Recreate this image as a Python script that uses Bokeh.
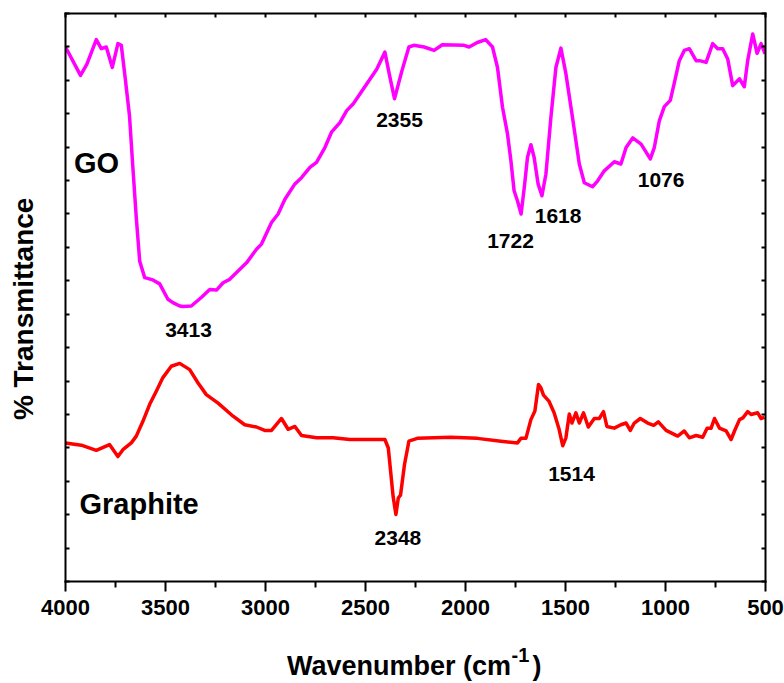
from bokeh.core.properties import value
from bokeh.embed import file_html
from bokeh.models import (ColumnDataSource, CustomJSTickFormatter, FixedTicker,
                          LinearAxis, Range1d)
from bokeh.plotting import figure
from bokeh.resources import INLINE

# FTIR spectra: wavenumber (cm^-1) vs. transmittance (arbitrary %, offset traces)
go_wn = [4000, 3925, 3893, 3846, 3821, 3796, 3766, 3738, 3721, 3704,
         3680, 3663, 3646, 3629, 3604, 3563, 3529, 3488, 3463, 3429,
         3413, 3371, 3321, 3279, 3245, 3212, 3179, 3095, 3045, 3020,
         2970, 2937, 2903, 2853, 2820, 2778, 2745, 2703, 2670, 2628,
         2594, 2561, 2494, 2444, 2403, 2378, 2355, 2318, 2283, 2258,
         2207, 2157, 2116, 2007, 1982, 1941, 1899, 1865, 1840, 1815,
         1790, 1773, 1757, 1740, 1722, 1705, 1690, 1673, 1657, 1637,
         1618, 1598, 1573, 1548, 1523, 1498, 1465, 1431, 1406, 1365,
         1340, 1306, 1256, 1223, 1197, 1164, 1122, 1076, 1056, 1031,
         1006, 976, 957, 931, 906, 881, 847, 830, 797, 764,
         739, 714, 689, 664, 630, 606, 589, 564, 542, 522,
         502]
go_t = [94.1, 89.1, 91.1, 95.4, 93.8, 94.1, 90.5, 94.7, 94.4, 89.4,
        82.0, 72.8, 64.0, 56.4, 53.5, 53.1, 52.4, 49.7, 49.1, 48.5,
        48.4, 48.5, 50.0, 51.4, 51.3, 52.6, 53.2, 56.1, 58.5, 59.4,
        63.2, 64.7, 67.3, 70.0, 71.1, 72.9, 73.8, 76.4, 79.1, 80.8,
        82.9, 84.1, 87.6, 90.2, 93.2, 88.8, 85.0, 89.9, 94.1, 94.4,
        94.1, 93.5, 94.5, 94.4, 94.1, 94.9, 95.4, 94.1, 90.5, 83.5,
        78.8, 74.1, 68.8, 67.0, 64.7, 69.7, 74.7, 76.9, 74.7, 70.0,
        67.9, 71.7, 81.7, 90.5, 93.9, 89.4, 81.7, 73.5, 70.2, 69.5,
        70.5, 72.3, 73.9, 73.5, 76.4, 78.1, 77.0, 74.4, 76.4, 81.1,
        83.6, 84.7, 87.6, 91.7, 93.5, 93.8, 91.7, 91.7, 91.4, 94.7,
        93.8, 93.8, 92.0, 87.3, 88.5, 87.1, 91.7, 96.4, 93.0, 94.7,
        92.9]

gr_wn = [4000, 3921, 3846, 3780, 3738, 3713, 3671, 3646, 3613, 3579,
         3546, 3513, 3471, 3429, 3379, 3338, 3296, 3237, 3162, 3104,
         3045, 3004, 2970, 2920, 2887, 2853, 2820, 2745, 2662, 2578,
         2403, 2386, 2362, 2348, 2336, 2325, 2305, 2283, 2241, 2074,
         1941, 1823, 1740, 1723, 1698, 1673, 1653, 1635, 1623, 1610,
         1582, 1557, 1532, 1514, 1498, 1481, 1468, 1448, 1431, 1410,
         1386, 1356, 1331, 1310, 1293, 1256, 1223, 1197, 1176, 1156,
         1126, 1089, 1059, 1036, 997, 939, 906, 881, 847, 814,
         792, 772, 755, 730, 697, 672, 655, 630, 613, 589,
         572, 539, 522, 505]
gr_t = [24.4, 24.0, 23.1, 24.1, 22.0, 23.2, 24.4, 25.6, 28.2, 31.2,
        33.5, 35.9, 37.9, 38.4, 37.3, 35.0, 32.9, 31.4, 29.1, 27.6,
        27.2, 26.6, 26.6, 28.7, 26.8, 27.3, 25.7, 25.3, 25.3, 25.0,
        25.0, 23.5, 15.0, 11.8, 14.7, 15.2, 20.6, 24.7, 25.2, 25.4,
        25.2, 24.7, 24.4, 25.2, 25.2, 28.5, 30.0, 34.7, 34.1, 32.8,
        31.7, 29.7, 26.8, 23.9, 25.3, 29.5, 27.9, 29.7, 27.9, 29.7,
        27.2, 28.7, 28.7, 29.9, 27.3, 27.0, 27.6, 27.9, 26.6, 27.9,
        28.7, 27.9, 27.5, 28.1, 26.6, 25.6, 26.5, 25.3, 25.7, 25.4,
        27.0, 27.0, 28.7, 27.0, 26.5, 25.0, 26.5, 28.5, 28.8, 29.9,
        29.4, 29.7, 28.7, 28.9]

# peak assignments and where their captions sit
peak_labels = ["3413", "2355", "1722", "1618", "1076", "2348", "1514"]
peak_label_x = [3385, 2330, 1775, 1537, 1022, 2338, 1470]
peak_label_y = [44.2, 81.3, 59.9, 64.4, 70.6, 7.6, 19.0]

series_names = ["GO", "Graphite"]
series_name_x = [3958, 3930]
series_name_y = [73.6, 13.7]

x_major = [4000, 3500, 3000, 2500, 2000, 1500, 1000, 500]
x_minor = [3750, 3250, 2750, 2250, 1750, 1250, 750]
x_top = list(range(500, 4001, 250))
y_ticks = [i * 100 / 17 for i in range(18)]

# axis titles, split so the exponent can be raised
x_title_main = {2332: "Wavenumber (cm", 1642: ")"}
x_title_sup = {1725: "-1"}
y_title = {48: "% Transmittance"}

FONT = "Liberation Sans"

p = figure(width=784, height=683, output_backend="svg", toolbar_location=None,
           x_range=Range1d(4000, 500), y_range=Range1d(0, 100),
           min_border_left=65, min_border_right=19,
           min_border_top=13, min_border_bottom=102)
p.xgrid.visible = False
p.ygrid.visible = False
p.outline_line_color = None
p.background_fill_color = "white"
p.border_fill_color = "white"

blank = CustomJSTickFormatter(code="return ''")


def style_axis(ax):
    ax.axis_line_width = 2
    ax.axis_line_color = "black"
    ax.axis_line_cap = "square"
    ax.major_tick_line_width = 2
    ax.minor_tick_line_width = 2
    ax.major_tick_line_color = "black"
    ax.minor_tick_line_color = "black"


def text_axis(ax, size, standoff):
    ax.axis_line_color = None
    ax.major_tick_line_color = None
    ax.minor_tick_line_color = None
    ax.major_tick_in = 0
    ax.major_tick_out = 0
    ax.minor_tick_in = 0
    ax.minor_tick_out = 0
    ax.major_label_text_font = FONT
    ax.major_label_text_font_style = "bold"
    ax.major_label_text_font_size = size
    ax.major_label_text_color = "black"
    ax.major_label_standoff = standoff


# bottom axis with labelled wavenumbers
xa = p.xaxis[0]
xa.ticker = FixedTicker(ticks=x_major, minor_ticks=x_minor)
style_axis(xa)
xa.major_tick_in = 0
xa.major_tick_out = 10
xa.minor_tick_in = 0
xa.minor_tick_out = 6
xa.major_label_text_font = FONT
xa.major_label_text_font_style = "bold"
xa.major_label_text_font_size = "22px"
xa.major_label_text_color = "black"
xa.major_label_standoff = 8

# left axis: inward ticks only
ya = p.yaxis[0]
ya.ticker = FixedTicker(ticks=y_ticks)
style_axis(ya)
ya.major_tick_in = 4
ya.major_tick_out = 0
ya.minor_tick_line_color = None
ya.formatter = blank
ya.major_label_standoff = 0

# mirrored frame axes
ra = LinearAxis(ticker=FixedTicker(ticks=y_ticks), formatter=blank)
style_axis(ra)
ra.major_tick_in = 4
ra.major_tick_out = 0
ra.minor_tick_line_color = None
ra.major_label_standoff = 0
p.add_layout(ra, "right")

ta = LinearAxis(ticker=FixedTicker(ticks=x_top), formatter=blank)
style_axis(ta)
ta.major_tick_in = 4
ta.major_tick_out = 0
ta.minor_tick_line_color = None
ta.major_label_standoff = 0
p.add_layout(ta, "above")

# x title: exponent row, then the main words
sup_ax = LinearAxis(ticker=FixedTicker(ticks=list(x_title_sup)),
                    major_label_overrides=x_title_sup)
text_axis(sup_ax, "20px", 30)
p.add_layout(sup_ax, "below")

title_ax = LinearAxis(ticker=FixedTicker(ticks=list(x_title_main)),
                      major_label_overrides=x_title_main)
text_axis(title_ax, "27px", -14)
p.add_layout(title_ax, "below")

# y title
ytitle_ax = LinearAxis(ticker=FixedTicker(ticks=list(y_title)),
                       major_label_overrides=y_title,
                       major_label_orientation="vertical")
text_axis(ytitle_ax, "28px", 26)
p.add_layout(ytitle_ax, "left")

# spectra
p.line(go_wn, go_t, line_color="#FF00FF", line_width=3.5, line_join="round")
p.line(gr_wn, gr_t, line_color="#FF0000", line_width=3.5, line_join="round")

peaks = ColumnDataSource(dict(x=peak_label_x, y=peak_label_y, text=peak_labels))
p.text(x="x", y="y", text="text", source=peaks, text_align="center",
       text_baseline="alphabetic", text_font=value(FONT),
       text_font_style="bold", text_font_size="21px", text_color="black")

names = ColumnDataSource(dict(x=series_name_x, y=series_name_y, text=series_names))
p.text(x="x", y="y", text="text", source=names, text_align="left",
       text_baseline="alphabetic", text_font=value(FONT),
       text_font_style="bold", text_font_size="29px", text_color="black")

open("out.html", "w").write(file_html(p, INLINE))
